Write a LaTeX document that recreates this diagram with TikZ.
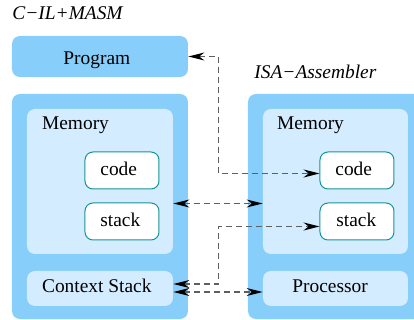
\documentclass[tikz,border=0pt]{standalone}
\usepackage{fontspec}
\setmainfont{Liberation Serif}
\usetikzlibrary{arrows.meta,calc}
\definecolor{outerblue}{RGB}{135,206,250}
\definecolor{innerblue}{RGB}{212,236,255}
\definecolor{tealb}{RGB}{20,150,150}
\definecolor{linegray}{RGB}{95,95,95}
\tikzset{mytip/.tip={Stealth[length=8pt,width=4pt,inset=2.6pt,color=black]}}
\begin{document}
\begin{tikzpicture}[x=0.5pt,y=-0.5pt,
  every node/.style={font=\fontsize{9.7}{11}\selectfont, inner sep=0pt},
  txt/.style={anchor=base west},
  outerbox/.style={fill=outerblue, rounded corners=4pt},
  innerbox/.style={fill=innerblue, rounded corners=4pt},
  cellbox/.style={fill=white, draw=tealb, line width=0.5pt, rounded corners=4pt},
  conn/.style={draw=linegray, line width=0.6pt, dash pattern=on 3pt off 2pt, mytip-mytip},
  lbl/.style={font=\itshape\fontsize{9.7}{11}\selectfont, anchor=base west}
]
\useasboundingbox (0,0) rectangle (414,320);
\clip (0,0) rectangle (414,320);
% titles
\node[lbl] (t1) at (12,20) {C−IL+MASM};
\node[lbl] (t2) at (254,79) {ISA−Assembler};
% left side
\node[outerbox, minimum width=88pt, minimum height=20.5pt] (prog) at (100,56.5) {};
\node[txt] (progt) at (63,65) {Program};
\path[outerbox] (12,94) rectangle (188,319);
\node[innerbox, minimum width=73pt, minimum height=72.5pt] (lmem) at (100,181.5) {};
\node[txt] (lmemt) at (41.7,130) {Memory};
\node[cellbox, minimum width=37pt, minimum height=18.5pt] (lcode) at (122,170.5) {};
\node[txt] (lcodet) at (100,176) {code};
\node[cellbox, minimum width=37pt, minimum height=18.5pt] (lstack) at (122,221.5) {};
\node[txt] (lstackt) at (100,227) {stack};
\node[innerbox, minimum width=73pt, minimum height=17.5pt] (ctx) at (100,288.5) {};
\node[txt] (ctxt) at (41.7,293) {Context Stack};
% right side
\path[outerbox] (248,94) rectangle (424,319);
\node[innerbox, minimum width=72.5pt, minimum height=72.5pt] (rmem) at (335.5,181.5) {};
\node[txt] (rmemt) at (276.7,130) {Memory};
\node[cellbox, minimum width=37pt, minimum height=18.5pt] (rcode) at (357,170.5) {};
\node[txt] (rcodet) at (335,176) {code};
\node[cellbox, minimum width=37pt, minimum height=18.5pt] (rstack) at (357,221.5) {};
\node[txt] (rstackt) at (336,227) {stack};
\node[innerbox, minimum width=72.5pt, minimum height=17.5pt] (proc) at (335.5,288.5) {};
\node[txt] (proct) at (292,293) {Processor};
% connectors
\draw[conn] (prog.east) -- ++(30,0) |- ($(rcode.west)+(0,3)$);
\draw[conn] ($(lmem.east)+(0,22)$) -- ($(rmem.west)+(0,22)$);
\draw[conn] ($(ctx.east)+(0,-4.5)$) -- ++(45,0) |- ($(rstack.west)+(0,5)$);
\draw[conn] ($(ctx.east)+(0,3.5)$) -- ($(proc.west)+(0,3.5)$);
\end{tikzpicture}
\end{document}
